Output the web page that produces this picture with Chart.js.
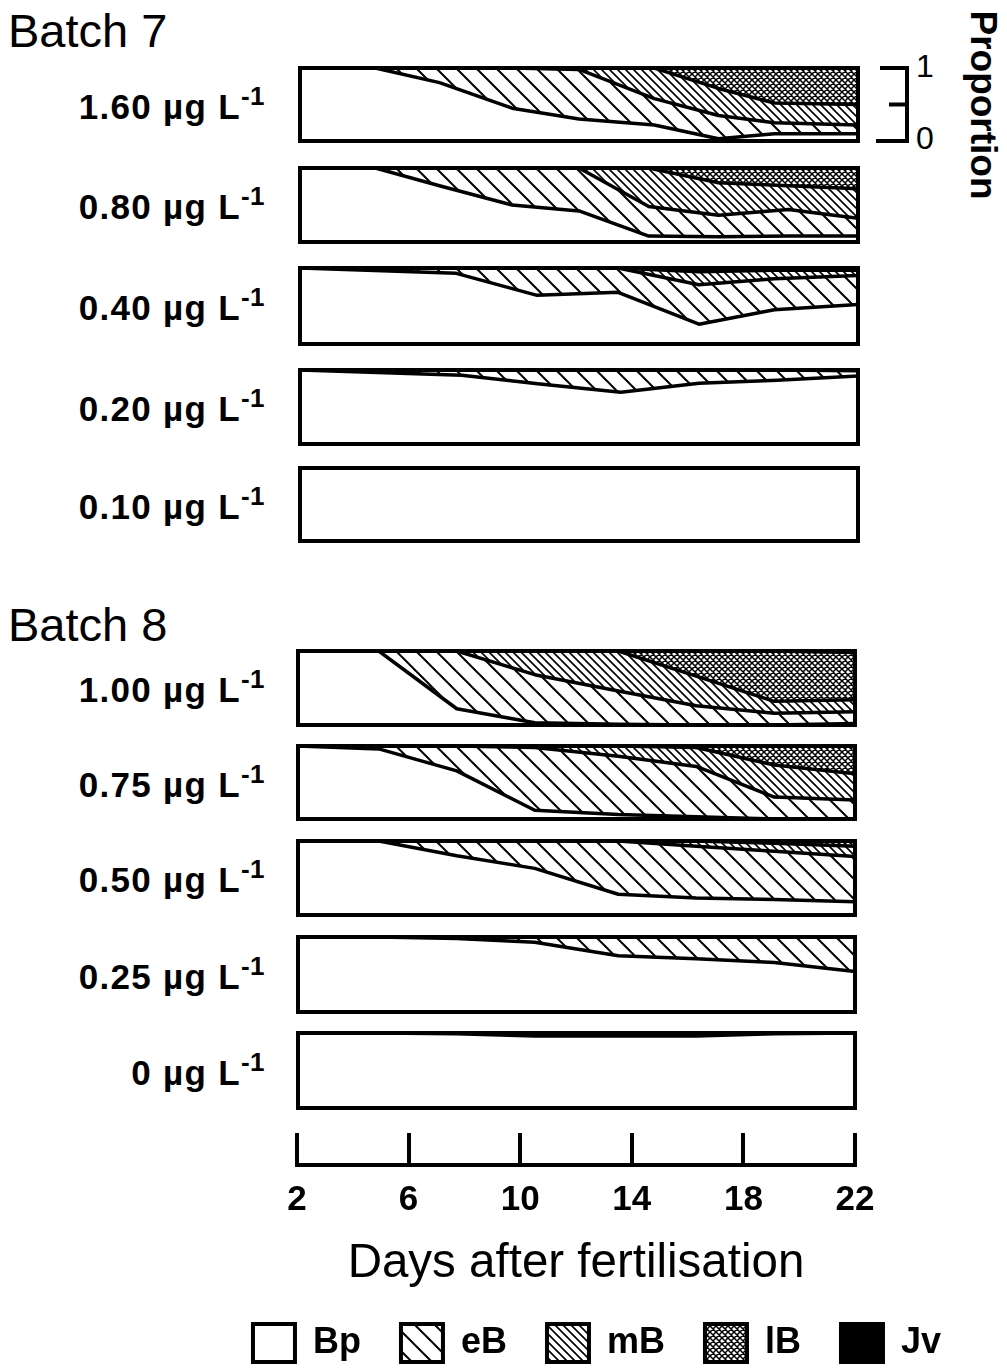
<!DOCTYPE html>
<html>
<head>
<meta charset="utf-8">
<title>Developmental stages by concentration</title>
<script src="https://cdn.jsdelivr.net/npm/chart.js@4.4.1/dist/chart.umd.min.js"></script>
<style>
  html, body { margin:0; padding:0; background:#fff; }
  body { position:relative; width:1007px; height:1368px; overflow:hidden;
         font-family:'Liberation Sans', Arial, Helvetica, sans-serif; color:#000; }
  .txt { position:absolute; white-space:nowrap; }
  .batch { font-size:47px; line-height:47px; }
  .conc { left:0; width:265px; text-align:right; font-size:35px; line-height:35px; font-weight:bold; letter-spacing:1.3px; }
  .conc .sup { font-size:26px; position:relative; top:-14px; letter-spacing:0.5px; }
  .scaleLab { font-size:32px; line-height:32px; }
  .ylab { font-size:37px; font-weight:bold; width:220px; height:44px; line-height:44px; text-align:center; transform:rotate(90deg); }
  canvas { position:absolute; }
</style>
</head>
<body>
<div class="txt batch" style="left:8px; top:7px;">Batch 7</div>
<div class="txt batch" style="left:8px; top:601px;">Batch 8</div>
<div class="txt scaleLab" style="left:916px; top:50px;">1</div>
<div class="txt scaleLab" style="left:916px; top:122px;">0</div>
<div class="txt ylab" style="left:873px; top:83px;">Proportion</div>
<script>
// ---------------- data ----------------
const stageNames = ['Bp', 'eB', 'mB', 'lB', 'Jv'];
const tickDays = [2, 6, 10, 14, 18, 22];
const concLabels7 = ['1.60', '0.80', '0.40', '0.20', '0.10'];
const concLabels8 = ['1.00', '0.75', '0.50', '0.25', '0'];

// Batch 7, 1.60 µg/L
const b7_160_days = [2, 4.7, 7, 9.6, 12, 14.7, 17, 19, 22];
const b7_160_Bp = [1, 1, 0.8, 0.45, 0.3, 0.22, 0.03, 0.1, 0.1];
const b7_160_eB = [0, 0, 0.2, 0.55, 0.68, 0.36, 0.32, 0.15, 0.12];
const b7_160_mB = [0, 0, 0, 0, 0.02, 0.42, 0.37, 0.27, 0.28];
const b7_160_lB = [0, 0, 0, 0, 0, 0, 0.28, 0.48, 0.5];
const b7_160_Jv = [0, 0, 0, 0, 0, 0, 0, 0, 0];
// Batch 7, 0.80
const b7_080_days = [2, 4.7, 7, 9.6, 12, 14.5, 17, 19.5, 22];
const b7_080_Bp = [1, 1, 0.76, 0.5, 0.42, 0.08, 0.07, 0.08, 0.08];
const b7_080_eB = [0, 0, 0.24, 0.5, 0.58, 0.4, 0.29, 0.36, 0.24];
const b7_080_mB = [0, 0, 0, 0, 0, 0.52, 0.44, 0.32, 0.4];
const b7_080_lB = [0, 0, 0, 0, 0, 0, 0.2, 0.24, 0.28];
const b7_080_Jv = [0, 0, 0, 0, 0, 0, 0, 0, 0];
// Batch 7, 0.40
const b7_040_days = [2, 7.6, 10.5, 13.4, 16.3, 19, 22];
const b7_040_Bp = [1, 0.93, 0.64, 0.68, 0.26, 0.45, 0.52];
const b7_040_eB = [0, 0.07, 0.36, 0.32, 0.52, 0.41, 0.38];
const b7_040_mB = [0, 0, 0, 0, 0.17, 0.11, 0.07];
const b7_040_lB = [0, 0, 0, 0, 0.05, 0.03, 0.03];
const b7_040_Jv = [0, 0, 0, 0, 0, 0, 0];
// Batch 7, 0.20
const b7_020_days = [2, 7.8, 10.6, 13.5, 16.3, 19.1, 22];
const b7_020_Bp = [1, 0.93, 0.81, 0.7, 0.82, 0.86, 0.92];
const b7_020_eB = [0, 0.07, 0.19, 0.3, 0.18, 0.14, 0.07];
const b7_020_mB = [0, 0, 0, 0, 0, 0, 0.01];
const b7_020_lB = [0, 0, 0, 0, 0, 0, 0];
const b7_020_Jv = [0, 0, 0, 0, 0, 0, 0];
// Batch 7, 0.10
const b7_010_days = [2, 22];
const b7_010_Bp = [1, 1];
const b7_010_eB = [0, 0];
const b7_010_mB = [0, 0];
const b7_010_lB = [0, 0];
const b7_010_Jv = [0, 0];

// Batch 8 (shared sampling days)
const b8_days = [2, 4.9, 7.7, 10.5, 13.5, 16.3, 19.1, 22];
// Batch 8, 1.00
const b8_100_Bp = [1, 1, 0.22, 0.03, 0.01, 0, 0, 0.02];
const b8_100_eB = [0, 0, 0.78, 0.65, 0.45, 0.26, 0.16, 0.16];
const b8_100_mB = [0, 0, 0, 0.32, 0.54, 0.4, 0.16, 0.16];
const b8_100_lB = [0, 0, 0, 0, 0, 0.34, 0.68, 0.64];
const b8_100_Jv = [0, 0, 0, 0, 0, 0, 0, 0.02];
// Batch 8, 0.75
const b8_075_Bp = [1, 0.96, 0.66, 0.12, 0.06, 0.03, 0, 0];
const b8_075_eB = [0, 0.04, 0.34, 0.86, 0.8, 0.69, 0.3, 0.26];
const b8_075_mB = [0, 0, 0, 0.02, 0.14, 0.26, 0.44, 0.36];
const b8_075_lB = [0, 0, 0, 0, 0, 0.02, 0.26, 0.38];
const b8_075_Jv = [0, 0, 0, 0, 0, 0, 0, 0];
// Batch 8, 0.50
const b8_050_Bp = [1, 1, 0.8, 0.63, 0.28, 0.23, 0.21, 0.18];
const b8_050_eB = [0, 0, 0.2, 0.37, 0.72, 0.7, 0.65, 0.61];
const b8_050_mB = [0, 0, 0, 0, 0, 0.07, 0.11, 0.14];
const b8_050_lB = [0, 0, 0, 0, 0, 0, 0.03, 0.07];
const b8_050_Jv = [0, 0, 0, 0, 0, 0, 0, 0];
// Batch 8, 0.25
const b8_025_Bp = [1, 1, 0.98, 0.93, 0.75, 0.71, 0.66, 0.54];
const b8_025_eB = [0, 0, 0.02, 0.07, 0.25, 0.29, 0.34, 0.46];
const b8_025_mB = [0, 0, 0, 0, 0, 0, 0, 0];
const b8_025_lB = [0, 0, 0, 0, 0, 0, 0, 0];
const b8_025_Jv = [0, 0, 0, 0, 0, 0, 0, 0];
// Batch 8, 0
const b8_000_Bp = [1, 1, 0.99, 0.96, 0.96, 0.96, 0.99, 1];
const b8_000_eB = [0, 0, 0.01, 0.04, 0.04, 0.04, 0.01, 0];
const b8_000_mB = [0, 0, 0, 0, 0, 0, 0, 0];
const b8_000_lB = [0, 0, 0, 0, 0, 0, 0, 0];
const b8_000_Jv = [0, 0, 0, 0, 0, 0, 0, 0];

// ---------------- build ----------------
const FONT = "'Liberation Sans', Arial, Helvetica, sans-serif";

const panels7 = [
  {days: b7_160_days, vals: [b7_160_Bp, b7_160_eB, b7_160_mB, b7_160_lB, b7_160_Jv]},
  {days: b7_080_days, vals: [b7_080_Bp, b7_080_eB, b7_080_mB, b7_080_lB, b7_080_Jv]},
  {days: b7_040_days, vals: [b7_040_Bp, b7_040_eB, b7_040_mB, b7_040_lB, b7_040_Jv]},
  {days: b7_020_days, vals: [b7_020_Bp, b7_020_eB, b7_020_mB, b7_020_lB, b7_020_Jv]},
  {days: b7_010_days, vals: [b7_010_Bp, b7_010_eB, b7_010_mB, b7_010_lB, b7_010_Jv]}
];
const panels8 = [
  {days: b8_days, vals: [b8_100_Bp, b8_100_eB, b8_100_mB, b8_100_lB, b8_100_Jv]},
  {days: b8_days, vals: [b8_075_Bp, b8_075_eB, b8_075_mB, b8_075_lB, b8_075_Jv]},
  {days: b8_days, vals: [b8_050_Bp, b8_050_eB, b8_050_mB, b8_050_lB, b8_050_Jv]},
  {days: b8_days, vals: [b8_025_Bp, b8_025_eB, b8_025_mB, b8_025_lB, b8_025_Jv]},
  {days: b8_days, vals: [b8_000_Bp, b8_000_eB, b8_000_mB, b8_000_lB, b8_000_Jv]}
];

// layout geometry (pixel boxes of each panel's plot area)
const geo7 = [[68,141],[168,242],[268,344],[370,444],[468,541]].map(([t,b]) => ({left:300, right:858, top:t, bottom:b}));
const geo8 = [[651,725],[746,819],[841,915],[937,1012],[1033,1108]].map(([t,b]) => ({left:298, right:855, top:t, bottom:b}));

function makeHatch(size, lw, cross) {
  const c = document.createElement('canvas');
  c.width = size; c.height = size;
  const x = c.getContext('2d');
  x.fillStyle = '#fff'; x.fillRect(0, 0, size, size);
  x.strokeStyle = '#000'; x.lineWidth = lw;
  x.beginPath();
  for (const o of [-size, 0, size]) { x.moveTo(o - 1, -1); x.lineTo(o + size + 1, size + 1); }
  if (cross) for (const o of [-size, 0, size]) { x.moveTo(o - 1, size + 1); x.lineTo(o + size + 1, -1); }
  x.stroke();
  return x.createPattern(c, 'repeat');
}
const fills = {
  Bp: '#ffffff',
  eB: makeHatch(20, 2, false),
  mB: makeHatch(8, 1.6, false),
  lB: makeHatch(6, 1.5, true),
  Jv: '#000000'
};

function addCanvas(left, top, w, h) {
  const c = document.createElement('canvas');
  c.width = w; c.height = h;
  c.style.left = left + 'px'; c.style.top = top + 'px';
  c.style.width = w + 'px'; c.style.height = h + 'px';
  document.body.appendChild(c);
  return c;
}

const boxPlugin = {
  id: 'panelBox',
  afterDraw(chart) {
    const {ctx, chartArea: a} = chart;
    ctx.save();
    ctx.lineWidth = 4; ctx.strokeStyle = '#000';
    ctx.strokeRect(a.left, a.top, a.right - a.left, a.bottom - a.top);
    ctx.restore();
  }
};
const bracketPlugin = {
  id: 'propBracket',
  afterDraw(chart) {
    const ctx = chart.ctx, ys = chart.scales.y;
    const y1 = ys.getPixelForValue(1), y0 = ys.getPixelForValue(0), ym = ys.getPixelForValue(0.5);
    const x = chart.chartArea.right + 49;
    ctx.save();
    ctx.lineWidth = 4; ctx.strokeStyle = '#000'; ctx.lineCap = 'square';
    ctx.beginPath();
    ctx.moveTo(x - 25, y1); ctx.lineTo(x, y1); ctx.lineTo(x, y0); ctx.lineTo(x - 29, y0);
    ctx.moveTo(x - 16, ym); ctx.lineTo(x, ym);
    ctx.stroke();
    ctx.restore();
  }
};

function drawPanel(p, g, extra) {
  const cL = 290, cR = 935, pad = 6;
  const canvas = addCanvas(cL, g.top - pad, cR - cL, g.bottom - g.top + 2 * pad);
  new Chart(canvas, {
    type: 'line',
    data: {
      datasets: stageNames.map((s, k) => ({
        label: s,
        data: p.days.map((d, i) => ({x: d, y: p.vals[k][i]})),
        fill: k === 0 ? 'origin' : '-1',
        backgroundColor: fills[s],
        borderColor: '#000',
        borderWidth: 3.5,
        borderJoinStyle: 'round',
        pointRadius: 0,
        tension: 0
      }))
    },
    options: {
      responsive: false, animation: false, events: [], devicePixelRatio: 1,
      layout: {padding: {left: g.left - cL, right: cR - g.right, top: pad, bottom: pad}},
      scales: {
        x: {type: 'linear', min: 2, max: 22, display: false},
        y: {stacked: true, min: 0, max: 1, display: false}
      },
      plugins: {legend: {display: false}, tooltip: {enabled: false}}
    },
    plugins: [boxPlugin].concat(extra || [])
  });
}

function addLabel(text, g) {
  const d = document.createElement('div');
  d.className = 'txt conc';
  const mid = (g.top + g.bottom) / 2;
  d.style.top = (mid - 16) + 'px';
  d.innerHTML = text + ' µg L<span class="sup">-1</span>';
  document.body.appendChild(d);
}

panels7.forEach((p, i) => { drawPanel(p, geo7[i], i === 0 ? [bracketPlugin] : []); addLabel(concLabels7[i], geo7[i]); });
panels8.forEach((p, i) => { drawPanel(p, geo8[i]); addLabel(concLabels8[i], geo8[i]); });

// x axis (tick marks are grid lines on a 30 px tall plot area)
const axCanvas = addCanvas(230, 1120, 700, 172);
new Chart(axCanvas, {
  type: 'line',
  data: {datasets: []},
  options: {
    responsive: false, animation: false, events: [], devicePixelRatio: 1,
    layout: {padding: {left: 67, right: 75, top: 13, bottom: 0}},
    scales: {
      x: {
        type: 'linear', position: 'bottom', min: 2, max: 22,
        afterBuildTicks: s => { s.ticks = tickDays.map(v => ({value: v})); },
        grid: {display: true, drawOnChartArea: true, drawTicks: false, lineWidth: 4, color: '#000'},
        border: {display: true, width: 4, color: '#000'},
        ticks: {padding: 14, color: '#000', font: {family: FONT, size: 35, weight: 'bold'}, maxRotation: 0, autoSkip: false}
      },
      y: {display: false, min: 0, max: 1}
    },
    plugins: {
      legend: {display: false}, tooltip: {enabled: false},
      title: {display: true, position: 'bottom', text: 'Days after fertilisation', color: '#000',
              font: {family: FONT, size: 47.5, weight: 'normal'}, padding: {top: 0, bottom: 0}}
    }
  }
});

// legend
const lgCanvas = addCanvas(194, 1284, 806, 200);
new Chart(lgCanvas, {
  type: 'line',
  data: {datasets: stageNames.map(s => ({label: s, data: [], backgroundColor: fills[s], borderColor: '#000', borderWidth: 4}))},
  options: {
    responsive: false, animation: false, events: [], devicePixelRatio: 1,
    layout: {padding: 0},
    scales: {x: {display: false}, y: {display: false}},
    plugins: {
      tooltip: {enabled: false},
      legend: {display: true, position: 'top', align: 'center',
        labels: {boxWidth: 42, boxHeight: 38, padding: 40, color: '#000', font: {family: FONT, size: 36, weight: 'bold'}}}
    }
  }
});
</script>
</body>
</html>
